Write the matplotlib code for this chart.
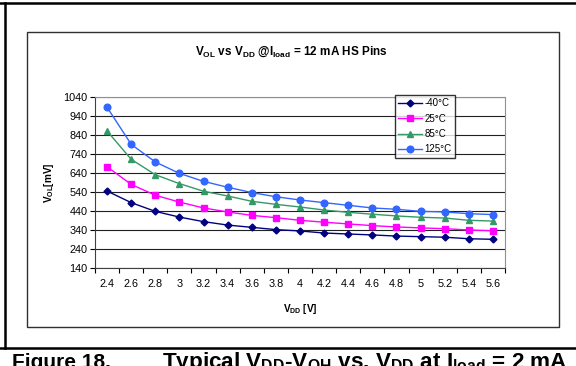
import matplotlib
matplotlib.use("Agg")
import matplotlib.pyplot as plt
from matplotlib.lines import Line2D
from matplotlib.patches import Rectangle
import numpy as np

plt.rcParams['font.family'] = ['Liberation Sans', 'DejaVu Sans']
plt.rcParams['mathtext.fontset'] = 'custom'
plt.rcParams['mathtext.rm'] = 'Liberation Sans'
plt.rcParams['mathtext.bf'] = 'Liberation Sans:bold'
plt.rcParams['mathtext.it'] = 'Liberation Sans:italic'

# data
vdd = ["2.4", "2.6", "2.8", "3", "3.2", "3.4", "3.6", "3.8", "4",
       "4.2", "4.4", "4.6", "4.8", "5", "5.2", "5.4", "5.6"]
vol_m40 = [545, 484, 438, 408, 384, 366, 354, 342, 335,
           324, 319, 314, 308, 305, 302, 294, 291]
vol_25 = [673, 580, 523, 487, 456, 435, 417, 405, 391,
          381, 372, 363, 356, 351, 347, 340, 336]
vol_85 = [861, 712, 631, 584, 544, 519, 491, 475, 461,
          445, 433, 423, 414, 407, 403, 391, 387]
vol_125 = [986, 791, 698, 638, 596, 565, 537, 515, 498,
           484, 470, 456, 449, 438, 435, 426, 421]
series_names = ["-40°C", "25°C", "85°C", "125°C"]
yticks = list(range(140, 1041, 100))

W, H = 576, 366
fig = plt.figure(figsize=(W / 100, H / 100), dpi=100)

def fx(px):
    return px / W

def fy(py):
    return 1 - py / H

# page frame
fig.add_artist(Line2D([0, 1], [fy(2.5), fy(2.5)], color='black', lw=1.8))
fig.add_artist(Line2D([0, 1], [fy(348), fy(348)], color='black', lw=1.8))
fig.add_artist(Line2D([fx(4.7), fx(4.7)], [fy(2.5), fy(348)], color='black', lw=1.8))
# chart box
fig.add_artist(Rectangle((fx(27), fy(326.5)), fx(559) - fx(27), fy(32) - fy(326.5),
                         fill=False, edgecolor='#303030', lw=1.0))

ax = fig.add_axes([fx(95), fy(268), fx(505) - fx(95), fy(97) - fy(268)])
x = np.arange(len(vdd))

ax.plot(x, vol_m40, color='#000080', marker='D', ms=3.5, lw=1.0, label=series_names[0])
ax.plot(x, vol_25, color='#FF00FF', marker='s', ms=4.8, lw=1.0, label=series_names[1])
ax.plot(x, vol_85, color='#339966', marker='^', ms=5.0, lw=1.0, label=series_names[2])
ax.plot(x, vol_125, color='#3366FF', marker='o', ms=4.8, lw=1.0, label=series_names[3])

ax.set_xlim(-0.5, len(vdd) - 0.5)
ax.set_ylim(140, 1040)
ax.set_yticks(yticks)
ax.set_xticks(x)
ax.set_xticklabels(vdd)
ax.set_xticks(np.arange(len(vdd) + 1) - 0.5, minor=True)
ax.tick_params(axis='x', which='major', length=0, labelsize=7.8, pad=8)
ax.tick_params(axis='x', which='minor', length=3.5, width=0.8, direction='out')
ax.tick_params(axis='y', length=3.5, width=0.8, labelsize=7.8, pad=2)
ax.grid(axis='y', color='#202020', lw=0.8)
ax.set_axisbelow(True)
for s in ['top', 'right']:
    ax.spines[s].set_color('#909090')
for s in ['left', 'bottom']:
    ax.spines[s].set_color('#404040')

ax.set_xlabel(r'V$_{\mathbf{DD}}$ [V]', fontsize=7.2, fontweight='bold', labelpad=9)
ax.set_ylabel(r'V$_{\mathbf{OL}}$[mV]', fontsize=7.2, fontweight='bold', labelpad=5)

fig.text(fx(291), fy(52), r'V$_{\mathbf{OL}}$ vs V$_{\mathbf{DD}}$ @I$_{\mathbf{load}}$ = 12 mA HS Pins',
         ha='center', va='center', fontsize=8.5, fontweight='bold')

leg = ax.legend(loc='upper left', bbox_to_anchor=(fx(395), fy(95)), bbox_transform=fig.transFigure,
                fontsize=7, frameon=True, fancybox=False, edgecolor='black',
                handlelength=2.4, borderpad=0.35, labelspacing=0.55, handletextpad=0.3,
                borderaxespad=0)
leg.get_frame().set_linewidth(1.0)

# caption of the page (cut off at the bottom of the picture, as in the source)
fig.text(fx(12), fy(368), 'Figure 18.', ha='left', va='baseline', fontsize=15, fontweight='bold')
fig.text(fx(162), fy(368),
         r'Typical V$_{\mathbf{DD}}$-V$_{\mathbf{OH}}$ vs. V$_{\mathbf{DD}}$ at I$_{\mathbf{load}}$ = 2 mA',
         ha='left', va='baseline', fontsize=16.2, fontweight='bold')

fig.savefig('out.png', dpi=100)
